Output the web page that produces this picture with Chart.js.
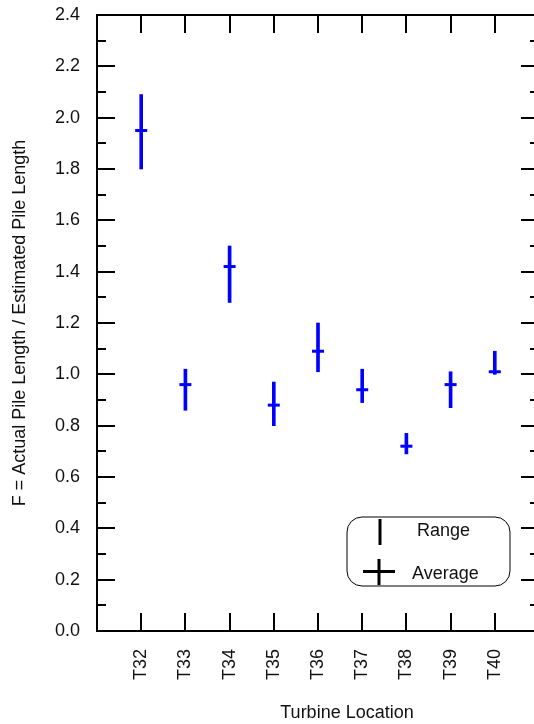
<!DOCTYPE html>
<html>
<head>
<meta charset="utf-8">
<script src="https://cdn.jsdelivr.net/npm/chart.js@4.4.1/dist/chart.umd.min.js"></script>
<style>
    html, body { margin: 0; padding: 0; background: #fff; overflow: hidden; }
    canvas { display: block; }
</style>
</head>
<body>
<canvas id="myChart" width="550" height="724"></canvas>
<script>
const categories = ['T32', 'T33', 'T34', 'T35', 'T36', 'T37', 'T38', 'T39', 'T40'];
const rangeLow = [1.80, 0.86, 1.28, 0.80, 1.01, 0.89, 0.69, 0.87, 1.00];
const rangeHigh = [2.09, 1.02, 1.50, 0.97, 1.20, 1.02, 0.77, 1.01, 1.09];
const averages = [1.95, 0.96, 1.42, 0.88, 1.09, 0.94, 0.72, 0.96, 1.01];
const legendLabels = ['Range', 'Average'];

const font = 'Liberation Sans, Arial, Helvetica, sans-serif';
const blue = '#0000ff';

// inward tick marks on all four sides, plus the frame
const frameTicks = {
    id: 'frameTicks',
    afterDatasetsDraw(chart) {
        const ctx = chart.ctx;
        const {left, right, top, bottom} = chart.chartArea;
        const x = chart.scales.x;
        const y = chart.scales.y;
        ctx.save();
        ctx.strokeStyle = '#000';
        ctx.lineWidth = 2;
        ctx.beginPath();
        for (let v = 0; v <= 24; v++) {
            const py = Math.round(y.getPixelForValue(v / 10));
            const len = v % 2 === 0 ? 18 : 9;
            ctx.moveTo(left, py); ctx.lineTo(left + len, py);
            ctx.moveTo(right, py); ctx.lineTo(right - len, py);
        }
        categories.forEach((c, i) => {
            const px = Math.round(x.getPixelForValue(i + 1));
            ctx.moveTo(px, bottom); ctx.lineTo(px, bottom - 18);
            ctx.moveTo(px, top); ctx.lineTo(px, top + 18);
        });
        ctx.stroke();
        ctx.strokeRect(left, top, right - left, bottom - top);

        // x axis title
        ctx.fillStyle = '#111';
        ctx.font = '18px ' + font;
        ctx.textAlign = 'center';
        ctx.textBaseline = 'middle';
        ctx.fillText('Turbine Location', 347, 713);

        // legend box
        ctx.lineWidth = 1;
        ctx.beginPath();
        ctx.roundRect(347, 517, 163, 69, 15);
        ctx.stroke();
        ctx.lineWidth = 3;
        ctx.beginPath();
        ctx.moveTo(380, 519); ctx.lineTo(380, 545);
        ctx.moveTo(363, 571.5); ctx.lineTo(395, 571.5);
        ctx.moveTo(379, 559); ctx.lineTo(379, 585);
        ctx.stroke();
        ctx.textAlign = 'left';
        ctx.fillText(legendLabels[0], 417, 531);
        ctx.fillText(legendLabels[1], 412, 574);
        ctx.restore();
    }
};

let ctx = document.getElementById('myChart');
let data = {
    datasets: [
        {
            type: 'line',
            label: 'Average',
            data: averages.map((v, i) => ({x: i + 1, y: v})),
            showLine: false,
            pointStyle: 'line',
            pointRadius: 6,
            pointBorderWidth: 3,
            borderColor: blue,
            backgroundColor: blue,
            order: 0
        },
        {
            type: 'bar',
            label: 'Range',
            data: rangeLow.map((v, i) => ({x: i + 1, y: [v, rangeHigh[i]]})),
            backgroundColor: blue,
            borderWidth: 0,
            barThickness: 3,
            order: 1
        }
    ]
};

let config = {
    data: data,
    options: {
        responsive: false,
        animation: false,
        devicePixelRatio: 1,
        layout: { padding: { top: 15, right: 11, left: 0, bottom: 0 } },
        plugins: { legend: { display: false }, tooltip: { enabled: false } },
        scales: {
            x: {
                type: 'linear',
                min: 0,
                max: 10,
                offset: false,
                grid: { display: false, drawTicks: false, offset: false },
                border: { display: false },
                afterFit: (scale) => {
                    scale.height = 93;
                    scale.paddingLeft = 0;
                    scale.paddingRight = 0;
                },
                ticks: {
                    stepSize: 1,
                    autoSkip: false,
                    minRotation: 90,
                    maxRotation: 90,
                    padding: 18,
                    color: '#111',
                    font: { family: font, size: 18 },
                    callback: (v) => categories[v - 1] || ''
                }
            },
            y: {
                min: 0,
                max: 2.4,
                grid: { display: false, drawTicks: false },
                border: { display: false },
                afterFit: (scale) => {
                    scale.width = 97;
                    scale.paddingTop = 0;
                    scale.paddingBottom = 0;
                },
                ticks: {
                    stepSize: 0.2,
                    padding: 17,
                    color: '#111',
                    font: { family: font, size: 18 },
                    callback: (v) => v.toFixed(1)
                },
                title: {
                    display: true,
                    text: 'F = Actual Pile Length / Estimated Pile Length',
                    color: '#111',
                    font: { family: font, size: 18 },
                    padding: { top: 9, bottom: 0 }
                }
            }
        }
    },
    plugins: [frameTicks]
};

let myChart = new Chart(ctx, config);
</script>
</body>
</html>
